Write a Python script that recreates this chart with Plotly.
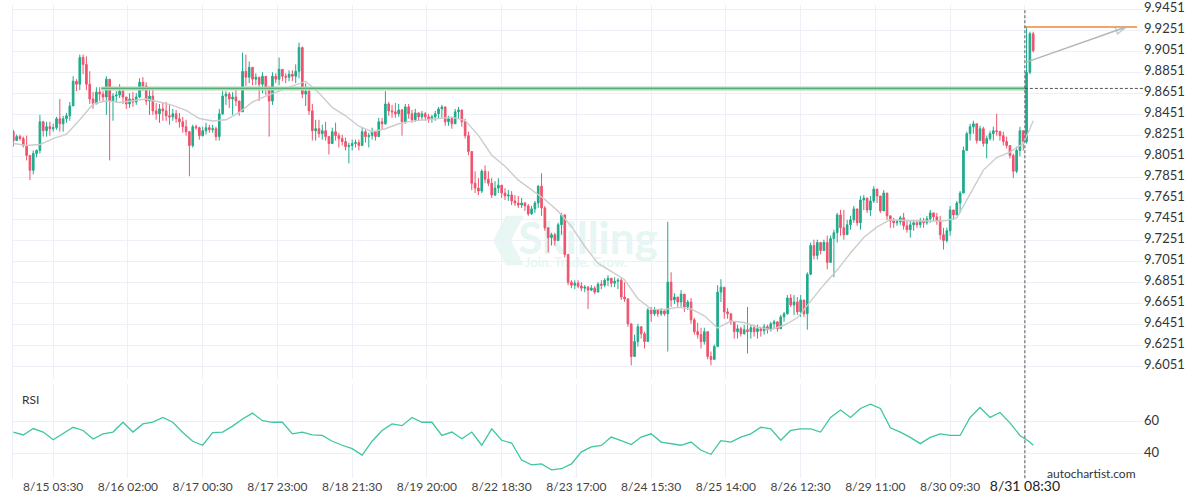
import plotly.graph_objects as go

# ---------------- data ----------------
# hourly candles, x expressed in 30-minute bar numbers (weekend gap removed)
bar_index = list(range(0, 616, 2))
first_open = 9.8291
closes = [
    9.8206, 9.8244, 9.8225, 9.8159, 9.8065, 9.7923, 9.8083, 9.8112, 9.8385, 9.8300,
    9.8338, 9.8319, 9.8329, 9.8414, 9.8366, 9.8414, 9.8442, 9.8536, 9.8772, 9.8743,
    9.8998, 9.8932, 9.8743, 9.8602, 9.8555, 9.8668, 9.8649, 9.8621, 9.8791, 9.8583,
    9.8630, 9.8640, 9.8677, 9.8621, 9.8555, 9.8602, 9.8574, 9.8621, 9.8762, 9.8725,
    9.8583, 9.8630, 9.8489, 9.8461, 9.8508, 9.8489, 9.8442, 9.8432, 9.8461, 9.8414,
    9.8385, 9.8338, 9.8291, 9.8159, 9.8338, 9.8329, 9.8253, 9.8300, 9.8329, 9.8310,
    9.8319, 9.8244, 9.8461, 9.8630, 9.8649, 9.8602, 9.8621, 9.8583, 9.8480, 9.8866,
    9.8810, 9.8904, 9.8791, 9.8810, 9.8743, 9.8819, 9.8715, 9.8583, 9.8819, 9.8791,
    9.8885, 9.8819, 9.8810, 9.8838, 9.8819, 9.8866, 9.9092, 9.8649, 9.8677, 9.8489,
    9.8300, 9.8319, 9.8272, 9.8300, 9.8244, 9.8178, 9.8291, 9.8253, 9.8225, 9.8197,
    9.8149, 9.8159, 9.8178, 9.8187, 9.8159, 9.8291, 9.8244, 9.8253, 9.8291, 9.8244,
    9.8385, 9.8366, 9.8555, 9.8489, 9.8480, 9.8461, 9.8498, 9.8385, 9.8527, 9.8461,
    9.8404, 9.8470, 9.8432, 9.8461, 9.8432, 9.8414, 9.8432, 9.8461, 9.8508, 9.8527,
    9.8385, 9.8414, 9.8366, 9.8480, 9.8498, 9.8385, 9.8253, 9.8102, 9.7800, 9.7753,
    9.7725, 9.7914, 9.7838, 9.7800, 9.7687, 9.7753, 9.7781, 9.7706, 9.7678, 9.7687,
    9.7631, 9.7611, 9.7592, 9.7611, 9.7583, 9.7508, 9.7555, 9.7611, 9.7772, 9.7564,
    9.7375, 9.7281, 9.7309, 9.7253, 9.7404, 9.7498, 9.7121, 9.6857, 9.6828, 9.6847,
    9.6819, 9.6800, 9.6809, 9.6781, 9.6800, 9.6762, 9.6838, 9.6828, 9.6875, 9.6894,
    9.6847, 9.6866, 9.6875, 9.6715, 9.6696, 9.6460, 9.6149, 9.6291, 9.6432, 9.6366,
    9.6291, 9.6592, 9.6555, 9.6592, 9.6555, 9.6583, 9.6555, 9.6857, 9.6687, 9.6715,
    9.6668, 9.6743, 9.6621, 9.6668, 9.6498, 9.6385, 9.6357, 9.6291, 9.6385, 9.6149,
    9.6121, 9.6243, 9.6762, 9.6809, 9.6574, 9.6555, 9.6479, 9.6385, 9.6413, 9.6366,
    9.6404, 9.6385, 9.6423, 9.6385, 9.6413, 9.6394, 9.6432, 9.6404, 9.6460, 9.6479,
    9.6413, 9.6526, 9.6555, 9.6706, 9.6640, 9.6668, 9.6574, 9.6687, 9.6555, 9.6932,
    9.7206, 9.7111, 9.7234, 9.7158, 9.7234, 9.7045, 9.7272, 9.7328, 9.7498, 9.7375,
    9.7309, 9.7404, 9.7451, 9.7555, 9.7423, 9.7640, 9.7659, 9.7545, 9.7631, 9.7744,
    9.7678, 9.7536, 9.7706, 9.7489, 9.7441, 9.7423, 9.7432, 9.7470, 9.7394, 9.7357,
    9.7404, 9.7423, 9.7404, 9.7441, 9.7423, 9.7460, 9.7517, 9.7479, 9.7441, 9.7309,
    9.7253, 9.7347, 9.7545, 9.7498, 9.7611, 9.7706, 9.8112, 9.8272, 9.8338, 9.8366,
    9.8206, 9.8319, 9.8178, 9.8225, 9.8272, 9.8300, 9.8291, 9.8253, 9.8197, 9.8159,
    9.8065, 9.7914, 9.8112, 9.8300, 9.8197, 9.8857, 9.9224, 9.9064,
]
highs = [
    9.8310, 9.8263, 9.8263, 9.8244, 9.8253, 9.8065, 9.8112, 9.8121, 9.8451, 9.8395,
    9.8385, 9.8385, 9.8366, 9.8432, 9.8602, 9.8442, 9.8470, 9.8574, 9.8819, 9.8791,
    9.9026, 9.9026, 9.9008, 9.8866, 9.8668, 9.8715, 9.8715, 9.8677, 9.8819, 9.8791,
    9.8659, 9.8677, 9.8743, 9.8696, 9.8621, 9.8659, 9.8668, 9.8659, 9.8800, 9.8810,
    9.8762, 9.8687, 9.8696, 9.8564, 9.8555, 9.8564, 9.8574, 9.8555, 9.8508, 9.8498,
    9.8470, 9.8432, 9.8404, 9.8272, 9.8357, 9.8357, 9.8338, 9.8338, 9.8376, 9.8357,
    9.8357, 9.8338, 9.8508, 9.8677, 9.8677, 9.8668, 9.8668, 9.8687, 9.8564, 9.9045,
    9.9026, 9.8960, 9.8904, 9.8847, 9.8810, 9.8857, 9.8810, 9.8725, 9.8857, 9.8847,
    9.8998, 9.8876, 9.8847, 9.8876, 9.8876, 9.8932, 9.9140, 9.9102, 9.8753, 9.8715,
    9.8555, 9.8404, 9.8404, 9.8357, 9.8385, 9.8244, 9.8329, 9.8376, 9.8281, 9.8263,
    9.8234, 9.8187, 9.8215, 9.8215, 9.8215, 9.8329, 9.8310, 9.8281, 9.8329, 9.8291,
    9.8423, 9.8423, 9.8677, 9.8574, 9.8546, 9.8564, 9.8555, 9.8508, 9.8555, 9.8555,
    9.8498, 9.8508, 9.8461, 9.8489, 9.8480, 9.8461, 9.8451, 9.8489, 9.8527, 9.8546,
    9.8527, 9.8442, 9.8432, 9.8508, 9.8527, 9.8489, 9.8414, 9.8291, 9.8102, 9.7914,
    9.7848, 9.7932, 9.7970, 9.7914, 9.7848, 9.7819, 9.7848, 9.7781, 9.7753, 9.7734,
    9.7725, 9.7687, 9.7678, 9.7659, 9.7621, 9.7602, 9.7583, 9.7631, 9.7781, 9.7895,
    9.7583, 9.7347, 9.7328, 9.7328, 9.7423, 9.7517, 9.7498, 9.7111, 9.6875, 9.6875,
    9.6875, 9.6857, 9.6828, 9.6819, 9.6828, 9.6819, 9.6857, 9.6875, 9.6894, 9.6923,
    9.6894, 9.6904, 9.6894, 9.6904, 9.6857, 9.6706, 9.6460, 9.6357, 9.6460, 9.6423,
    9.6385, 9.6611, 9.6621, 9.6621, 9.6592, 9.6611, 9.6592, 9.7432, 9.6951, 9.6753,
    9.6706, 9.6781, 9.6706, 9.6687, 9.6706, 9.6517, 9.6470, 9.6423, 9.6423, 9.6309,
    9.6196, 9.6262, 9.6828, 9.6885, 9.6706, 9.6611, 9.6564, 9.6479, 9.6451, 9.6432,
    9.6451, 9.6621, 9.6451, 9.6451, 9.6451, 9.6432, 9.6460, 9.6451, 9.6479, 9.6498,
    9.6479, 9.6545, 9.6574, 9.6734, 9.6743, 9.6734, 9.6715, 9.6734, 9.6668, 9.6951,
    9.7234, 9.7262, 9.7262, 9.7234, 9.7262, 9.7300, 9.7300, 9.7357, 9.7517, 9.7545,
    9.7545, 9.7451, 9.7489, 9.7583, 9.7489, 9.7678, 9.7687, 9.7611, 9.7678, 9.7772,
    9.7734, 9.7640, 9.7734, 9.7611, 9.7489, 9.7470, 9.7451, 9.7489, 9.7517, 9.7441,
    9.7441, 9.7451, 9.7451, 9.7470, 9.7470, 9.7489, 9.7545, 9.7517, 9.7517, 9.7489,
    9.7375, 9.7375, 9.7583, 9.7545, 9.7631, 9.7725, 9.8149, 9.8291, 9.8366, 9.8395,
    9.8319, 9.8347, 9.8338, 9.8253, 9.8300, 9.8338, 9.8461, 9.8300, 9.8291, 9.8244,
    9.8149, 9.8083, 9.8149, 9.8338, 9.8300, 9.9286, 9.9243, 9.9243,
]
lows = [
    9.8149, 9.8206, 9.8206, 9.8140, 9.8017, 9.7829, 9.7885, 9.8046, 9.8083, 9.8244,
    9.8244, 9.8253, 9.8291, 9.8310, 9.8291, 9.8291, 9.8376, 9.8395, 9.8555, 9.8677,
    9.8687, 9.8838, 9.8687, 9.8555, 9.8508, 9.8555, 9.8583, 9.8583, 9.8451, 9.8017,
    9.8395, 9.8574, 9.8611, 9.8555, 9.8508, 9.8517, 9.8527, 9.8546, 9.8611, 9.8677,
    9.8546, 9.8451, 9.8451, 9.8404, 9.8376, 9.8395, 9.8395, 9.8357, 9.8395, 9.8376,
    9.8329, 9.8281, 9.8253, 9.7866, 9.8140, 9.8310, 9.8215, 9.8244, 9.8263, 9.8281,
    9.8281, 9.8206, 9.8206, 9.8451, 9.8546, 9.8517, 9.8451, 9.8536, 9.8442, 9.8517,
    9.8725, 9.8753, 9.8734, 9.8734, 9.8583, 9.8659, 9.8640, 9.8244, 9.8546, 9.8753,
    9.8734, 9.8772, 9.8753, 9.8772, 9.8772, 9.8753, 9.8800, 9.8611, 9.8536, 9.8451,
    9.8206, 9.8206, 9.8234, 9.8215, 9.8206, 9.8074, 9.8206, 9.8206, 9.8140, 9.8159,
    9.8112, 9.7989, 9.8112, 9.8140, 9.8112, 9.8168, 9.8187, 9.8140, 9.8215, 9.8206,
    9.8253, 9.8310, 9.8357, 9.8442, 9.8423, 9.8423, 9.8432, 9.8253, 9.8366, 9.8414,
    9.8376, 9.8385, 9.8395, 9.8404, 9.8395, 9.8376, 9.8376, 9.8395, 9.8414, 9.8423,
    9.8347, 9.8347, 9.8319, 9.8376, 9.8414, 9.8338, 9.8225, 9.8065, 9.7734, 9.7706,
    9.7687, 9.7706, 9.7800, 9.7772, 9.7659, 9.7678, 9.7706, 9.7659, 9.7640, 9.7631,
    9.7592, 9.7583, 9.7564, 9.7564, 9.7536, 9.7489, 9.7498, 9.7517, 9.7564, 9.7489,
    9.7347, 9.7140, 9.7206, 9.7206, 9.7262, 9.7309, 9.7092, 9.6828, 9.6800, 9.6791,
    9.6800, 9.6772, 9.6762, 9.6602, 9.6772, 9.6743, 9.6762, 9.6791, 9.6809, 9.6819,
    9.6809, 9.6809, 9.6791, 9.6687, 9.6668, 9.6432, 9.6064, 9.6159, 9.6243, 9.6319,
    9.6225, 9.6291, 9.6479, 9.6536, 9.6526, 9.6536, 9.6536, 9.6196, 9.6621, 9.6649,
    9.6621, 9.6621, 9.6574, 9.6592, 9.6460, 9.6357, 9.6319, 9.6225, 9.6262, 9.6121,
    9.6064, 9.6130, 9.6319, 9.6668, 9.6508, 9.6508, 9.6451, 9.6319, 9.6319, 9.6338,
    9.6357, 9.6177, 9.6319, 9.6338, 9.6319, 9.6338, 9.6357, 9.6366, 9.6385, 9.6413,
    9.6385, 9.6413, 9.6479, 9.6545, 9.6621, 9.6545, 9.6545, 9.6526, 9.6526, 9.6404,
    9.6923, 9.7073, 9.7073, 9.7121, 9.7168, 9.6979, 9.7045, 9.6904, 9.7234, 9.7300,
    9.7262, 9.7328, 9.7357, 9.7423, 9.7394, 9.7357, 9.7545, 9.7517, 9.7489, 9.7611,
    9.7611, 9.7517, 9.7583, 9.7451, 9.7375, 9.7375, 9.7394, 9.7404, 9.7357, 9.7328,
    9.7281, 9.7347, 9.7375, 9.7375, 9.7375, 9.7404, 9.7423, 9.7441, 9.7404, 9.7262,
    9.7168, 9.7234, 9.7300, 9.7451, 9.7517, 9.7517, 9.7706, 9.8131, 9.8206, 9.8272,
    9.8178, 9.8206, 9.8149, 9.8036, 9.8206, 9.8206, 9.8253, 9.8206, 9.8159, 9.8131,
    9.8036, 9.7848, 9.7895, 9.8055, 9.8112, 9.8178, 9.8838, 9.9045,
]
# each candle opens where the previous one closed
opens = [first_open] + closes[:-1]

# grey moving average, read every 4th candle
ma_bar = list(range(0, 609, 8)) + [610, 612, 614]
ma_values = [
    9.8178, 9.8159, 9.8168, 9.8225, 9.8267, 9.8404, 9.8555, 9.8586, 9.8569, 9.8586,
    9.8602, 9.8574, 9.8541, 9.8494, 9.8416, 9.8392, 9.8404, 9.8474, 9.8574, 9.8630,
    9.8680, 9.8725, 9.8772, 9.8659, 9.8522, 9.8442, 9.8343, 9.8291, 9.8319, 9.8366,
    9.8391, 9.8406, 9.8420, 9.8429, 9.8397, 9.8256, 9.8067, 9.7961, 9.7829, 9.7734,
    9.7645, 9.7533, 9.7389, 9.7199, 9.7036, 9.6960, 9.6880, 9.6699, 9.6600, 9.6596,
    9.6617, 9.6602, 9.6536, 9.6421, 9.6486, 9.6472, 9.6430, 9.6404, 9.6446, 9.6517,
    9.6677, 9.6833, 9.6972, 9.7135, 9.7283, 9.7383, 9.7452, 9.7443, 9.7439, 9.7439,
    9.7439, 9.7470, 9.7700, 9.7925, 9.8045, 9.8096, 9.8178, 9.8244, 9.8319, 9.8395,
]

# RSI, read every 3rd candle
rsi_bar = list(range(0, 613, 6)) + [614]
rsi_values = [
    53.3, 51.5, 55.5, 53.3, 48.5, 52.2, 56.3, 54.3, 49.0, 52.2,
    53.3, 59.4, 53.3, 58.4, 59.5, 62.4, 59.4, 53.0, 47.6, 45.1,
    52.9, 53.3, 57.0, 61.4, 65.1, 60.4, 59.4, 59.4, 52.2, 53.3,
    51.5, 51.2, 47.6, 45.1, 43.0, 39.0, 47.6, 54.3, 58.4, 57.3,
    62.4, 59.4, 59.4, 51.2, 53.3, 49.2, 53.3, 45.1, 55.3, 48.2,
    46.5, 35.9, 32.9, 33.5, 29.8, 30.5, 33.5, 41.0, 44.1, 45.0,
    50.2, 48.0, 45.5, 50.2, 52.2, 47.1, 46.0, 45.1, 47.1, 42.0,
    39.5, 48.0, 47.1, 50.2, 52.2, 56.3, 55.3, 48.2, 54.3, 55.3,
    55.3, 53.3, 62.4, 67.0, 62.4, 68.0, 70.6, 68.0, 56.0, 53.3,
    50.0, 46.1, 50.0, 52.2, 51.2, 51.2, 62.4, 68.6, 62.4, 65.5,
    59.0, 51.2, 47.1, 45.1,
]

tick_bars = [24, 69, 114, 159, 204, 249, 294, 339, 384, 429, 474, 519, 564, 609]
tick_labels = ["8/15 03:30", "8/16 02:00", "8/17 00:30", "8/17 23:00", "8/18 21:30",
               "8/19 20:00", "8/22 18:30", "8/23 17:00", "8/24 15:30", "8/25 14:00",
               "8/26 12:30", "8/29 11:00", "8/30 09:30", "8/31 08:30"]
price_ticks = [9.6051, 9.6251, 9.6451, 9.6651, 9.6851, 9.7051, 9.7251, 9.7451, 9.7651,
               9.7851, 9.8051, 9.8251, 9.8451, 9.8651, 9.8851, 9.9051, 9.9251, 9.9451]
price_tick_labels = ["9.6051", "9.6251", "9.6451", "9.6651", "9.6851", "9.7051", "9.7251",
                     "9.7451", "9.7651", "9.7851", "9.8051", "9.8251", "9.8451", "9.8651",
                     "9.8851", "9.9051", "9.9251", "9.9451"]
rsi_ticks = [40, 60]

key_level = 9.8703
level_start_bar = 53
signal_bar = 609
target_price = 9.9288
target_end_bar = 676.5
arrow_start = (609.5, 9.8951)
arrow_end = (670, 9.9288)

# ---------------- styling ----------------
GREEN = "#1eab8c"
RED = "#f0526c"
GRID = "#edf1f7"
X_RANGE = [-0.5, 680.1]
X_DOMAIN = [12.5 / 1200, 1143 / 1200]

highs = [max(h, o, c) for h, o, c in zip(highs, opens, closes)]
lows = [min(l, o, c) for l, o, c in zip(lows, opens, closes)]

fig = go.Figure()

fig.add_trace(go.Candlestick(
    x=bar_index, open=opens, high=highs, low=lows, close=closes,
    increasing=dict(line=dict(color=GREEN, width=1), fillcolor=GREEN),
    decreasing=dict(line=dict(color=RED, width=1), fillcolor=RED),
    whiskerwidth=0, xaxis="x", yaxis="y", hoverinfo="skip",
))
fig.add_trace(go.Scatter(x=ma_bar, y=ma_values, mode="lines",
                         line=dict(color="#cccccc", width=1.4), xaxis="x", yaxis="y",
                         hoverinfo="skip"))
# key level (light band with darker core)
fig.add_trace(go.Scatter(x=[level_start_bar, signal_bar], y=[key_level, key_level], mode="lines",
                         line=dict(color="#a9d9b7", width=4), xaxis="x", yaxis="y", hoverinfo="skip"))
fig.add_trace(go.Scatter(x=[level_start_bar, signal_bar], y=[key_level, key_level], mode="lines",
                         line=dict(color="#5aab74", width=1.3), xaxis="x", yaxis="y", hoverinfo="skip"))
# target line
fig.add_trace(go.Scatter(x=[signal_bar, target_end_bar], y=[target_price, target_price], mode="lines",
                         line=dict(color="#f7862e", width=1.5), xaxis="x", yaxis="y", hoverinfo="skip"))
# forecast arrow
fig.add_trace(go.Scatter(x=[arrow_start[0], arrow_end[0]], y=[arrow_start[1], arrow_end[1]],
                         mode="lines+markers",
                         line=dict(color="#b5b5b5", width=1.5),
                         marker=dict(symbol=["circle", "arrow-open"], size=[0, 11], angleref="previous",
                                     color="#b5b5b5", line=dict(color="#b5b5b5", width=1.5)),
                         xaxis="x", yaxis="y", hoverinfo="skip"))
# RSI
fig.add_trace(go.Scatter(x=rsi_bar, y=rsi_values, mode="lines",
                         line=dict(color="#3ec6a3", width=1.3), xaxis="x2", yaxis="y2",
                         hoverinfo="skip"))

last_label = "<span style='font-size:14px;color:#222'>" + tick_labels[-1] + "</span>"
bottom_labels = tick_labels[:-1] + [last_label]

axis_common = dict(range=X_RANGE, domain=X_DOMAIN, tickvals=tick_bars, showgrid=True,
                   gridcolor=GRID, gridwidth=1, zeroline=False, showline=False, ticks="",
                   fixedrange=True)

fig.update_layout(
    width=1200, height=500,
    margin=dict(l=0, r=0, t=0, b=0),
    paper_bgcolor="white", plot_bgcolor="white",
    showlegend=False, hovermode=False,
    font=dict(family="Lato, 'Open Sans', sans-serif", color="#333333", size=12),
    xaxis=dict(**axis_common, anchor="y", showticklabels=False, rangeslider=dict(visible=False)),
    xaxis2=dict(**axis_common, anchor="y2", showticklabels=True, ticktext=bottom_labels,
                tickfont=dict(size=12, color="#444444")),
    yaxis=dict(domain=[0.244, 1.0], range=[9.5932, 9.9498], side="right", anchor="x",
               tickvals=price_ticks, ticktext=price_tick_labels, showgrid=True, gridcolor=GRID,
               zeroline=False, ticks="", tickfont=dict(size=13, color="#333333"), fixedrange=True,
               ticklabeloverflow="allow", ticklabelshift=-2),
    yaxis2=dict(domain=[0.044, 0.234], range=[24.6, 83.1], side="right", anchor="x2",
                tickvals=rsi_ticks, showgrid=True, gridcolor=GRID, zeroline=False, ticks="",
                tickfont=dict(size=13, color="#333333"), fixedrange=True, ticklabelshift=-1),
)

shapes = [
    # left plot border
    dict(type="line", xref="paper", yref="paper", x0=X_DOMAIN[0], x1=X_DOMAIN[0], y0=0.044, y1=1.0,
         line=dict(color=GRID, width=1)),
    # signal time marker
    dict(type="line", xref="x", yref="paper", x0=signal_bar, x1=signal_bar, y0=0.044, y1=0.99,
         line=dict(color="#555555", width=1, dash="3px,2px")),
    # key level extension
    dict(type="line", xref="x", yref="y", x0=signal_bar, x1=X_RANGE[1], y0=key_level, y1=key_level,
         line=dict(color="#555555", width=1, dash="3px,2px")),
    # watermark logo
    dict(type="path", xref="paper", yref="paper", layer="below",
         path="M 0.4217 0.574 L 0.4367 0.574 L 0.4258 0.524 L 0.4367 0.474 L 0.4217 0.474 L 0.4108 0.524 Z",
         fillcolor="#e8f7f3", line=dict(width=0)),
    dict(type="rect", xref="paper", yref="paper", layer="below", x0=0.43, x1=0.55, y0=0.49, y1=0.575,
         line=dict(width=0), fillcolor="rgba(0,0,0,0)",
         label=dict(text="Skilling", font=dict(size=44, color="#e6f6f2", family="Lato", weight=700),
                    textposition="middle center")),
    dict(type="rect", xref="paper", yref="paper", layer="below", x0=0.43, x1=0.53, y0=0.465, y1=0.495,
         line=dict(width=0), fillcolor="rgba(0,0,0,0)",
         label=dict(text="Join. Trade. Grow.", font=dict(size=13, color="#e6f6f2", family="Lato", weight=700),
                    textposition="middle center")),
]
fig.update_layout(shapes=shapes)

fig.add_annotation(text="RSI", xref="paper", yref="paper", x=20 / 1200, y=1 - 398.5 / 500,
                   xanchor="left", yanchor="middle", showarrow=False,
                   font=dict(size=12, color="#333333"))
fig.add_annotation(text="autochartist.com", xref="paper", yref="paper", x=1138 / 1200, y=1 - 473 / 500,
                   xanchor="right", yanchor="middle", showarrow=False,
                   font=dict(size=12, color="#333333"))

fig.write_html("out.html",
               config={"displayModeBar": False},
               post_script="document.body.style.margin='0px';document.body.style.overflow='hidden';")
